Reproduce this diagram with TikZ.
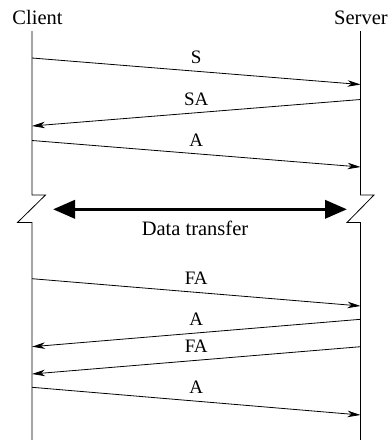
\documentclass[tikz,border=0pt]{standalone}
\usepackage{fontspec}
\setmainfont{Liberation Serif}
\usetikzlibrary{arrows.meta}
\begin{document}
\begin{tikzpicture}[x=1pt,y=-1pt,
  lifeline/.style={line width=0.8pt},
  msg/.style={line width=0.8pt,-{Stealth[length=13pt,width=6.5pt,inset=4pt]}},
  msglabel/.style={anchor=base,inner sep=0pt,font=\fontsize{19}{22}\selectfont},
  head/.style={anchor=base,inner sep=0pt,font=\fontsize{20.5}{24}\selectfont},
  bigarrow/.style={line width=3.6pt,{Triangle[length=22pt,width=18pt]}-{Triangle[length=22pt,width=18pt]}}]
\useasboundingbox (0,0) rectangle (390,440);

% column headings
\node[head] (client) at (37.5,24) {Client};
\node[head] (server) at (361,24.5) {Server};

% lifelines with break marks
\coordinate (ctop) at (32,31);
\coordinate (cbrk1) at (32,195);
\coordinate (cbrk2) at (32,222.5);
\coordinate (cbot) at (32,440);
\coordinate (stop) at (360.5,31);
\coordinate (sbrk1) at (360.5,195);
\coordinate (sbrk2) at (360.5,222.5);
\coordinate (sbot) at (360.5,440);
\draw[lifeline] (ctop) -- (cbrk1) -- ++(13.5,0) -- (17.5,222.5) -- (cbrk2) -- (cbot);
\draw[lifeline] (stop) -- (sbrk1) -- ++(13.5,0) -- (347,222.5) -- (sbrk2) -- (sbot);

% message end points
\coordinate (c1) at (32,58);    \coordinate (s1) at (360.5,84.5);
\coordinate (s2) at (360.5,99.5); \coordinate (c2) at (32,126);
\coordinate (c3) at (32,140.5); \coordinate (s3) at (360.5,167);
\coordinate (c4) at (32,278.7); \coordinate (s4) at (360.5,306);
\coordinate (s5) at (360.5,319.3); \coordinate (c5) at (32,346.7);
\coordinate (s6) at (360.5,346.7); \coordinate (c6) at (32,374);
\coordinate (c7) at (32,387.3); \coordinate (s7) at (360.5,415);

% handshake
\draw[msg] (c1) -- (s1) node[msglabel,pos=0.5,yshift=7.5pt] (l1) {S};
\draw[msg] (s2) -- (c2) node[msglabel,pos=0.5,yshift=7.5pt] (l2) {SA};
\draw[msg] (c3) -- (s3) node[msglabel,pos=0.5,yshift=7.5pt] (l3) {A};

% data transfer
\coordinate (dl) at (53,209.3);
\coordinate (dr) at (347,209.3);
\draw[bigarrow] (dl) -- (dr);
\node[head] (data) at (195,235.5) {Data transfer};

% connection close
\draw[msg] (c4) -- (s4) node[msglabel,pos=0.5,yshift=7.5pt] (l4) {FA};
\draw[msg] (s5) -- (c5) node[msglabel,pos=0.5,yshift=7.5pt] (l5) {A};
\draw[msg] (s6) -- (c6) node[msglabel,pos=0.5,yshift=7.5pt] (l6) {FA};
\draw[msg] (c7) -- (s7) node[msglabel,pos=0.5,yshift=7.5pt] (l7) {A};
\end{tikzpicture}
\end{document}
